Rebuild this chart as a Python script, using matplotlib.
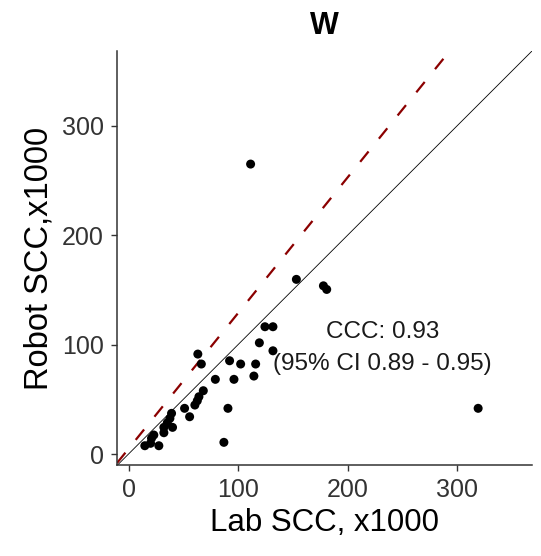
import numpy as np
import matplotlib
matplotlib.use('Agg')
import matplotlib.pyplot as plt

plt.rcParams['font.family'] = ['Liberation Sans', 'DejaVu Sans']

# lab vs robot somatic cell counts (x1000)
lab_scc = [111.5, 153.3, 178.0, 181.0, 124.6, 131.9, 119.5, 131.9, 63.3, 66.5,
           92.3, 102.4, 116.1, 79.3, 96.3, 114.5, 68.3, 64.3, 62.8, 60.6,
           51.2, 90.8, 55.8, 39.3, 37.8, 35.4, 40.2, 32.3, 32.3, 23.1,
           21.0, 14.9, 20.1, 27.7, 87.1, 319.3]
robot_scc = [265.1, 159.7, 153.8, 150.5, 116.4, 116.4, 101.7, 94.4, 91.4, 82.3,
             85.3, 82.3, 82.3, 68.3, 68.3, 71.3, 57.9, 52.4, 48.7, 44.8,
             41.8, 41.8, 34.1, 37.2, 32.6, 28.6, 24.4, 24.4, 19.5, 17.4,
             14.4, 7.6, 9.8, 7.6, 10.7, 41.8]

fit_intercept = 4.8
fit_slope = 1.24
ccc_text = "CCC: 0.93\n(95% CI 0.89 - 0.95)"
ticks = [0, 100, 200, 300]

fig = plt.figure(figsize=(5.41, 5.56), dpi=100)
ax = fig.add_axes([0.2163, 0.1637, 0.7671, 0.7446])

ax.axline((0, 0), slope=1, color='black', lw=0.6, zorder=2)
ax.axline((0, fit_intercept), slope=fit_slope, color='#8B0000', lw=1.6,
          linestyle=(0, (6, 7.4)), zorder=2)
ax.scatter(lab_scc, robot_scc, s=42, color='black', edgecolors='none', zorder=3)

ax.text(232, 97, ccc_text, ha='center', va='center', fontsize=17.5,
        color='#1a1a1a', multialignment='center', linespacing=1.55)

ax.set_xlim(-10.5, 368.5)
ax.set_ylim(-10, 368.5)
ax.set_xticks(ticks)
ax.set_yticks(ticks)
ax.tick_params(labelsize=18, length=4.5, width=1, color='#333333',
               labelcolor='#333333', pad=5)
for side in ['top', 'right']:
    ax.spines[side].set_visible(False)
for side in ['left', 'bottom']:
    ax.spines[side].set_color('#333333')
    ax.spines[side].set_linewidth(1.1)

ax.set_xlabel("Lab SCC, x1000", fontsize=22.5, labelpad=4)
ax.set_ylabel("Robot SCC,x1000", fontsize=23.5, labelpad=5)
ax.set_title("W", fontsize=22, fontweight='bold', pad=12)

fig.savefig('out.png', dpi=100)
